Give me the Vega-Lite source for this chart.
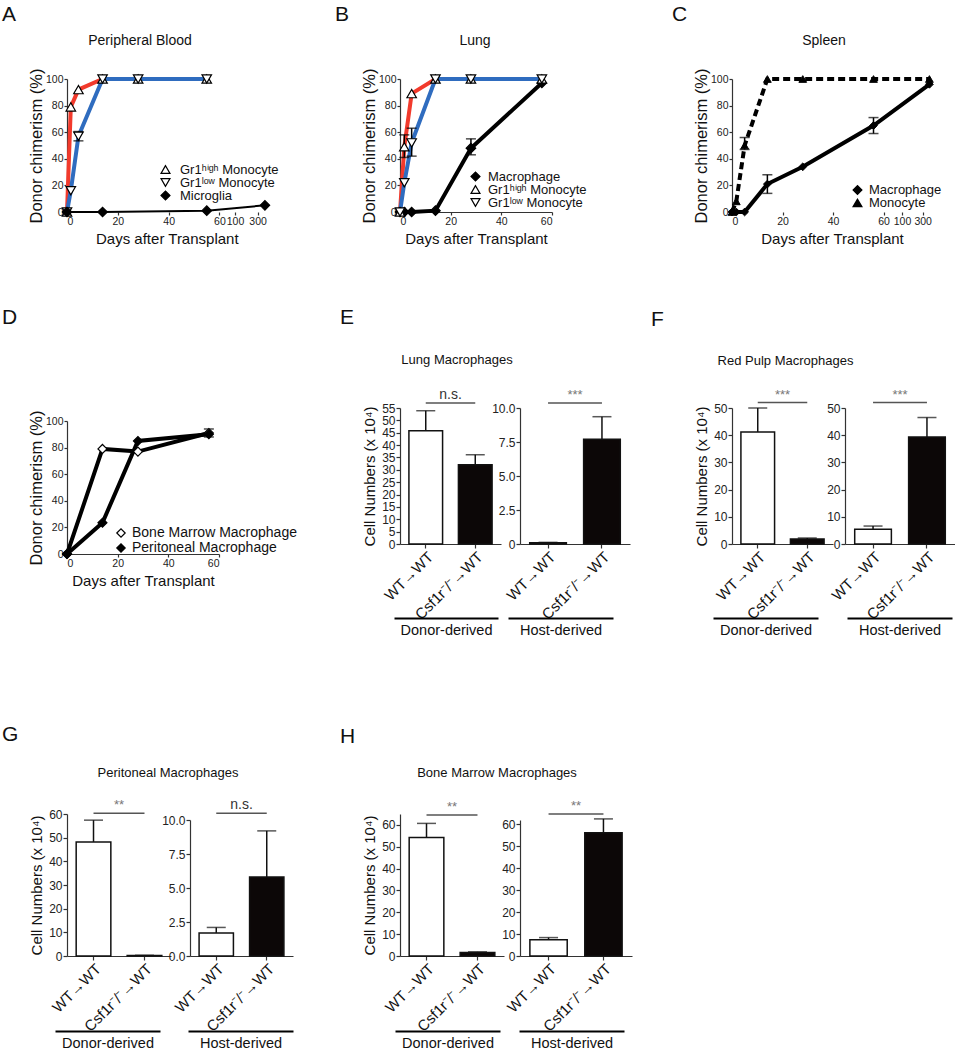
{
"$schema":"https://vega.github.io/schema/vega-lite/v6.json",
"padding":{"left":2,"top":3,"right":0,"bottom":0},
"background":"white",
"config":{"font":"Liberation Sans","view":{"stroke":null},
 "axis":{"labelFont":"Liberation Sans","labelFontSize":11,"labelColor":"#222","titleFont":"Liberation Sans","titleFontWeight":"normal","titleColor":"#111","domainColor":"#333","tickColor":"#333","tickSize":4,"grid":false,"domainWidth":1.2,"tickWidth":1.2,"labelOverlap":false,"labelPadding":1},
 "title":{"font":"Liberation Sans","fontWeight":"normal","color":"#111"},
 "legend":{"labelFont":"Liberation Sans","labelColor":"#111","padding":0,"labelLimit":400}},
"columns":7,"bounds":"flush","align":"each","spacing":{"row":196,"column":0},
"resolve":{"scale":{"color":"independent","fill":"independent","shape":"independent","size":"independent","stroke":"independent"},"legend":{"color":"independent","fill":"independent","shape":"independent","size":"independent","stroke":"independent"}},
"concat":[
 {"width":65,"height":1,"data":{"values":[{}]},"mark":{"type":"point","opacity":0},"title":{"text":"A","anchor":"start","frame":"group","fontSize":21,"dx":0,"offset":52}},
 {"title":{"text":"Peripheral Blood","fontSize":14,"offset":20,"dx":11.5,"anchor":"middle","frame":"group"},
  "width":123,"height":133,
  "data":{"values":[
   {"day":0,"v":0,"s":"Gr1ʰⁱᵍʰ Monocyte"},{"day":1.5,"v":79,"s":"Gr1ʰⁱᵍʰ Monocyte"},{"day":4.5,"v":92,"s":"Gr1ʰⁱᵍʰ Monocyte"},{"day":14,"v":100,"s":"Gr1ʰⁱᵍʰ Monocyte"},{"day":28,"v":100,"s":"Gr1ʰⁱᵍʰ Monocyte"},{"day":55,"v":100,"s":"Gr1ʰⁱᵍʰ Monocyte"},
   {"day":0,"v":0,"s":"Gr1ˡᵒʷ Monocyte"},{"day":1.5,"v":16,"s":"Gr1ˡᵒʷ Monocyte"},{"day":4.5,"v":57,"lo":53.5,"hi":60.5,"s":"Gr1ˡᵒʷ Monocyte"},{"day":14,"v":100,"s":"Gr1ˡᵒʷ Monocyte"},{"day":28,"v":100,"s":"Gr1ˡᵒʷ Monocyte"},{"day":55,"v":100,"s":"Gr1ˡᵒʷ Monocyte"},
   {"day":0,"v":0,"s":"Microglia"},{"day":14,"v":0,"s":"Microglia"},{"day":55,"v":1,"s":"Microglia"},{"day":365,"v":5,"s":"Microglia"}]},
  "encoding":{
   "x":{"field":"day","type":"quantitative","scale":{"domain":[0,61,64,100,380],"range":[0,155,160.6,168,199.6],"nice":false,"zero":false},
    "axis":{"values":[0,20,40,60,100,300],"tickCount":100,"format":"d","domain":false,"labelFontSize":10.5,"tickSize":3,"labelOverlap":false,"title":"Days after Transplant","titleFontSize":15,"titlePadding":5}},
   "y":{"field":"v","type":"quantitative","scale":{"domain":[0,100],"nice":false},
    "axis":{"values":[0,20,40,60,80,100],"tickCount":100,"format":"d","labelFontSize":10.5,"tickSize":3,"labelOverlap":false,"title":"Donor chimerism (%)","titleFontSize":16.5,"titlePadding":1}}},
  "layer":[
   {"data":{"values":[{}]},"mark":{"type":"rule","color":"#222","strokeWidth":1.2},"encoding":{"x":{"datum":0},"x2":{"datum":61},"y":{"datum":0}}},
   {"data":{"values":[{}]},"mark":{"type":"rule","color":"#222","strokeWidth":1.2},"encoding":{"x":{"datum":64},"x2":{"datum":380},"y":{"datum":0}}},
   {"transform":[{"filter":"datum.s == 'Gr1ʰⁱᵍʰ Monocyte'"}],"mark":{"type":"line","strokeWidth":4,"color":"#f23a2c"}},
   {"transform":[{"filter":"datum.s == 'Gr1ˡᵒʷ Monocyte'"}],"mark":{"type":"line","strokeWidth":4,"color":"#2f6cbf"}},
   {"transform":[{"filter":"datum.s == 'Microglia'"}],"mark":{"type":"line","strokeWidth":2,"color":"#000"}},
   {"transform":[{"filter":"isValid(datum.lo)"}],"mark":{"type":"rule","color":"#000","strokeWidth":1.5},"encoding":{"y":{"field":"lo","type":"quantitative"},"y2":{"field":"hi"}}},
   {"transform":[{"filter":"isValid(datum.lo)"},{"fold":["lo","hi"],"as":["k","ev"]}],"mark":{"type":"tick","orient":"horizontal","size":10,"thickness":1.5,"color":"#000"},"encoding":{"y":{"field":"ev","type":"quantitative"}}},
   {"mark":{"type":"point","filled":true,"strokeWidth":1.2,"opacity":1,"size":90},
    "encoding":{
     "shape":{"field":"s","type":"nominal","scale":{"domain":["Gr1ʰⁱᵍʰ Monocyte","Gr1ˡᵒʷ Monocyte","Microglia"],"range":["triangle-up","triangle-down","diamond"]},
      "legend":{"orient":"none","legendX":92,"legendY":85,"title":null,"labelFontSize":13,"rowPadding":-3,"clipHeight":11,"symbolSize":80,"labelOffset":8,"symbolStrokeWidth":1.2}},
     "fill":{"field":"s","type":"nominal","scale":{"domain":["Gr1ʰⁱᵍʰ Monocyte","Gr1ˡᵒʷ Monocyte","Microglia"],"range":["#ffffff","#ffffff","#000000"]},
      "legend":{"orient":"none","legendX":92,"legendY":85,"title":null,"labelFontSize":13,"rowPadding":-3,"clipHeight":11,"symbolSize":80,"labelOffset":8,"symbolStrokeWidth":1.2}},
     "stroke":{"field":"s","type":"nominal","scale":{"domain":["Gr1ʰⁱᵍʰ Monocyte","Gr1ˡᵒʷ Monocyte","Microglia"],"range":["#000000","#000000","#000000"]},
      "legend":{"orient":"none","legendX":92,"legendY":85,"title":null,"labelFontSize":13,"rowPadding":-3,"clipHeight":11,"symbolSize":80,"labelOffset":8,"symbolStrokeWidth":1.2}}}}
  ]},
 {"width":210,"height":1,"data":{"values":[{}]},"mark":{"type":"point","opacity":0},"title":{"text":"B","anchor":"start","frame":"group","fontSize":21,"dx":145,"offset":52}},
 {"title":{"text":"Lung","fontSize":14,"offset":20,"dx":15,"anchor":"middle","frame":"group"},
  "width":120,"height":133,
  "data":{"values":[
   {"day":0,"v":0,"s":"Macrophage"},{"day":1.7,"v":0,"s":"Macrophage"},{"day":4.6,"v":0,"s":"Macrophage"},{"day":14,"v":1,"s":"Macrophage"},{"day":28,"v":48,"lo":43,"hi":55,"s":"Macrophage"},{"day":56,"v":97,"s":"Macrophage"},
   {"day":0,"v":0,"s":"Gr1ʰⁱᵍʰ Monocyte"},{"day":1.7,"v":49,"lo":41,"hi":58,"s":"Gr1ʰⁱᵍʰ Monocyte"},{"day":4.6,"v":89,"s":"Gr1ʰⁱᵍʰ Monocyte"},{"day":14,"v":100,"s":"Gr1ʰⁱᵍʰ Monocyte"},{"day":28,"v":100,"s":"Gr1ʰⁱᵍʰ Monocyte"},{"day":56,"v":100,"s":"Gr1ʰⁱᵍʰ Monocyte"},
   {"day":0,"v":0,"s":"Gr1ˡᵒʷ Monocyte"},{"day":1.7,"v":22,"s":"Gr1ˡᵒʷ Monocyte"},{"day":4.6,"v":52,"lo":42,"hi":63,"s":"Gr1ˡᵒʷ Monocyte"},{"day":14,"v":100,"s":"Gr1ˡᵒʷ Monocyte"},{"day":28,"v":100,"s":"Gr1ˡᵒʷ Monocyte"},{"day":56,"v":100,"s":"Gr1ˡᵒʷ Monocyte"}]},
  "encoding":{
   "x":{"field":"day","type":"quantitative","scale":{"domain":[0,60],"range":[0,152],"nice":false,"zero":false},
    "axis":{"values":[0,20,40,60],"tickCount":100,"format":"d","labelFontSize":10.5,"tickSize":3,"labelOverlap":false,"title":"Days after Transplant","titleFontSize":15,"titlePadding":5}},
   "y":{"field":"v","type":"quantitative","scale":{"domain":[0,100],"nice":false},
    "axis":{"values":[0,20,40,60,80,100],"tickCount":100,"format":"d","labelFontSize":10.5,"tickSize":3,"labelOverlap":false,"title":"Donor chimerism (%)","titleFontSize":16.5,"titlePadding":1}}},
  "layer":[
   {"transform":[{"filter":"datum.s == 'Macrophage'"}],"mark":{"type":"line","strokeWidth":4,"color":"#000"}},
   {"transform":[{"filter":"datum.s == 'Gr1ʰⁱᵍʰ Monocyte'"}],"mark":{"type":"line","strokeWidth":4,"color":"#f23a2c"}},
   {"transform":[{"filter":"datum.s == 'Gr1ˡᵒʷ Monocyte'"}],"mark":{"type":"line","strokeWidth":4,"color":"#2f6cbf"}},
   {"transform":[{"filter":"isValid(datum.lo)"}],"mark":{"type":"rule","color":"#000","strokeWidth":1.5},"encoding":{"y":{"field":"lo","type":"quantitative"},"y2":{"field":"hi"}}},
   {"transform":[{"filter":"isValid(datum.lo)"},{"fold":["lo","hi"],"as":["k","ev"]}],"mark":{"type":"tick","orient":"horizontal","size":10,"thickness":1.5,"color":"#000"},"encoding":{"y":{"field":"ev","type":"quantitative"}}},
   {"mark":{"type":"point","filled":true,"strokeWidth":1.2,"opacity":1,"size":90},
    "encoding":{
     "shape":{"field":"s","type":"nominal","scale":{"domain":["Macrophage","Gr1ʰⁱᵍʰ Monocyte","Gr1ˡᵒʷ Monocyte"],"range":["diamond","triangle-up","triangle-down"]},
      "legend":{"orient":"none","legendX":69,"legendY":92,"title":null,"labelFontSize":13,"rowPadding":-3,"clipHeight":11,"symbolSize":80,"labelOffset":6,"symbolStrokeWidth":1.2}},
     "fill":{"field":"s","type":"nominal","scale":{"domain":["Macrophage","Gr1ʰⁱᵍʰ Monocyte","Gr1ˡᵒʷ Monocyte"],"range":["#000000","#ffffff","#ffffff"]},
      "legend":{"orient":"none","legendX":69,"legendY":92,"title":null,"labelFontSize":13,"rowPadding":-3,"clipHeight":11,"symbolSize":80,"labelOffset":6,"symbolStrokeWidth":1.2}},
     "stroke":{"field":"s","type":"nominal","scale":{"domain":["Macrophage","Gr1ʰⁱᵍʰ Monocyte","Gr1ˡᵒʷ Monocyte"],"range":["#000000","#000000","#000000"]},
      "legend":{"orient":"none","legendX":69,"legendY":92,"title":null,"labelFontSize":13,"rowPadding":-3,"clipHeight":11,"symbolSize":80,"labelOffset":6,"symbolStrokeWidth":1.2}}}}
  ]},
 {"width":212,"height":1,"data":{"values":[{}]},"mark":{"type":"point","opacity":0},"title":{"text":"C","anchor":"start","frame":"group","fontSize":21,"dx":152,"offset":52}},
 {"title":{"text":"Spleen","fontSize":14,"offset":20,"dx":35.5,"anchor":"middle","frame":"group"},
  "width":113,"height":133,
  "data":{"values":[
   {"day":0,"v":0,"s":"Macrophage"},{"day":1.7,"v":0,"s":"Macrophage"},{"day":5,"v":0,"s":"Macrophage"},{"day":14,"v":21,"lo":14,"hi":28,"s":"Macrophage"},{"day":28,"v":34,"s":"Macrophage"},{"day":56,"v":65,"lo":59,"hi":71,"s":"Macrophage"},{"day":365,"v":96,"s":"Macrophage"},
   {"day":0,"v":0,"s":"Monocyte"},{"day":1.7,"v":8,"s":"Monocyte"},{"day":5,"v":50,"lo":47,"hi":56,"s":"Monocyte"},{"day":14,"v":100,"s":"Monocyte"},{"day":28,"v":100,"s":"Monocyte"},{"day":56,"v":100,"s":"Monocyte"},{"day":365,"v":100,"s":"Monocyte"}]},
  "encoding":{
   "x":{"field":"day","type":"quantitative","scale":{"domain":[0,61.5,64,100,390],"range":[0,155.4,162.6,170,200],"nice":false,"zero":false},
    "axis":{"values":[0,20,40,60,100,300],"tickCount":100,"format":"d","domain":false,"labelFontSize":10.5,"tickSize":3,"labelOverlap":false,"title":"Days after Transplant","titleFontSize":15,"titlePadding":5}},
   "y":{"field":"v","type":"quantitative","scale":{"domain":[0,100],"nice":false},
    "axis":{"values":[0,20,40,60,80,100],"tickCount":100,"format":"d","labelFontSize":10.5,"tickSize":3,"labelOverlap":false,"title":"Donor chimerism (%)","titleFontSize":16.5,"titlePadding":1}}},
  "layer":[
   {"data":{"values":[{}]},"mark":{"type":"rule","color":"#222","strokeWidth":1.2},"encoding":{"x":{"datum":0},"x2":{"datum":61.5},"y":{"datum":0}}},
   {"data":{"values":[{}]},"mark":{"type":"rule","color":"#222","strokeWidth":1.2},"encoding":{"x":{"datum":64},"x2":{"datum":390},"y":{"datum":0}}},
   {"transform":[{"filter":"datum.s == 'Macrophage'"}],"mark":{"type":"line","strokeWidth":4,"color":"#000"}},
   {"transform":[{"filter":"datum.s == 'Monocyte'"}],"mark":{"type":"line","strokeWidth":4,"color":"#000","strokeDash":[7,4]}},
   {"transform":[{"filter":"isValid(datum.lo)"}],"mark":{"type":"rule","color":"#000","strokeWidth":1.5},"encoding":{"y":{"field":"lo","type":"quantitative"},"y2":{"field":"hi"}}},
   {"transform":[{"filter":"isValid(datum.lo)"},{"fold":["lo","hi"],"as":["k","ev"]}],"mark":{"type":"tick","orient":"horizontal","size":10,"thickness":1.5,"color":"#000"},"encoding":{"y":{"field":"ev","type":"quantitative"}}},
   {"mark":{"type":"point","filled":true,"strokeWidth":1,"opacity":1,"size":60},
    "encoding":{
     "shape":{"field":"s","type":"nominal","scale":{"domain":["Macrophage","Monocyte"],"range":["diamond","triangle-up"]},
      "legend":{"orient":"none","legendX":119,"legendY":105.5,"title":null,"labelFontSize":13,"rowPadding":-3,"clipHeight":11,"symbolSize":70,"labelOffset":5}},
     "fill":{"field":"s","type":"nominal","scale":{"domain":["Macrophage","Monocyte"],"range":["#000000","#000000"]},
      "legend":{"orient":"none","legendX":119,"legendY":105.5,"title":null,"labelFontSize":13,"rowPadding":-3,"clipHeight":11,"symbolSize":70,"labelOffset":5}},
     "stroke":{"field":"s","type":"nominal","scale":{"domain":["Macrophage","Monocyte"],"range":["#000000","#000000"]},
      "legend":{"orient":"none","legendX":119,"legendY":105.5,"title":null,"labelFontSize":13,"rowPadding":-3,"clipHeight":11,"symbolSize":70,"labelOffset":5}}}}
  ]},
 {"width":110,"height":1,"data":{"values":[{}]},"mark":{"type":"point","opacity":0}},

 {"width":65,"height":1,"data":{"values":[{}]},"mark":{"type":"point","opacity":0},"title":{"text":"D","anchor":"start","frame":"group","fontSize":21,"dx":0,"offset":78}},
 {"width":123,"height":146,
  "data":{"values":[
   {"day":0,"v":0,"s":"Bone Marrow Macrophage"},{"day":14,"v":79,"s":"Bone Marrow Macrophage"},{"day":28,"v":77,"s":"Bone Marrow Macrophage"},{"day":56,"v":91,"lo":88,"hi":94,"s":"Bone Marrow Macrophage"},
   {"day":0,"v":0,"s":"Peritoneal Macrophage"},{"day":14,"v":23.5,"s":"Peritoneal Macrophage"},{"day":28,"v":85,"s":"Peritoneal Macrophage"},{"day":56,"v":90,"s":"Peritoneal Macrophage"}]},
  "encoding":{
   "x":{"field":"day","type":"quantitative","scale":{"domain":[0,60],"range":[0,152],"nice":false,"zero":false},
    "axis":{"values":[0,20,40,60],"tickCount":100,"format":"d","labelFontSize":10.5,"tickSize":3,"labelOverlap":false,"title":"Days after Transplant","titleFontSize":15,"titlePadding":5}},
   "y":{"field":"v","type":"quantitative","scale":{"domain":[0,100],"range":[146,13],"nice":false},
    "axis":{"values":[0,20,40,60,80,100],"tickCount":100,"format":"d","labelFontSize":10.5,"tickSize":3,"labelOverlap":false,"title":"Donor chimerism (%)","titleFontSize":16.5,"titlePadding":1}}},
  "layer":[
   {"mark":{"type":"line","strokeWidth":4,"color":"#000"},"encoding":{"detail":{"field":"s","type":"nominal"}}},
   {"transform":[{"filter":"isValid(datum.lo)"}],"mark":{"type":"rule","color":"#000","strokeWidth":1.5},"encoding":{"y":{"field":"lo","type":"quantitative"},"y2":{"field":"hi"}}},
   {"transform":[{"filter":"isValid(datum.lo)"},{"fold":["lo","hi"],"as":["k","ev"]}],"mark":{"type":"tick","orient":"horizontal","size":10,"thickness":1.5,"color":"#000"},"encoding":{"y":{"field":"ev","type":"quantitative"}}},
   {"mark":{"type":"point","filled":true,"strokeWidth":1.2,"opacity":1,"size":80},
    "encoding":{
     "shape":{"field":"s","type":"nominal","scale":{"domain":["Bone Marrow Macrophage","Peritoneal Macrophage"],"range":["diamond","diamond"]},
      "legend":{"orient":"none","legendX":47,"legendY":118,"title":null,"labelFontSize":14,"rowPadding":1,"clipHeight":14,"symbolSize":70,"labelOffset":4,"symbolStrokeWidth":1.2}},
     "fill":{"field":"s","type":"nominal","scale":{"domain":["Bone Marrow Macrophage","Peritoneal Macrophage"],"range":["#ffffff","#000000"]},
      "legend":{"orient":"none","legendX":47,"legendY":118,"title":null,"labelFontSize":14,"rowPadding":1,"clipHeight":14,"symbolSize":70,"labelOffset":4,"symbolStrokeWidth":1.2}},
     "stroke":{"field":"s","type":"nominal","scale":{"domain":["Bone Marrow Macrophage","Peritoneal Macrophage"],"range":["#000000","#000000"]},
      "legend":{"orient":"none","legendX":47,"legendY":118,"title":null,"labelFontSize":14,"rowPadding":1,"clipHeight":14,"symbolSize":70,"labelOffset":4,"symbolStrokeWidth":1.2}}}}
  ]},
 {"width":210,"height":1,"data":{"values":[{}]},"mark":{"type":"point","opacity":0},"title":{"text":"E","anchor":"start","frame":"group","fontSize":21,"dx":150,"offset":78}},
 {"title":{"text":"Lung Macrophages","fontSize":13,"offset":21,"dx":-3,"anchor":"middle","frame":"group"},
  "width":120,"height":136,
  "data":{"values":[{"g":"WT→WT","m":45.8,"hi":53.9},{"g":"Csf1r⁻/⁻→WT","m":32.1,"hi":36.1}]},
  "resolve":{"scale":{"x":"independent"},"axis":{"x":"independent"}},
  "layer":[
   {"encoding":{"x":{"field":"g","type":"nominal","sort":null,"scale":{"domain":["WT→WT","Csf1r⁻/⁻→WT"],"range":[0,101],"paddingInner":0.32,"paddingOuter":0.18},"axis":{"labelAngle":-45,"title":null,"labelFontSize":15,"labelColor":"#111"}}},
    "layer":[
     {"mark":{"type":"rule","color":"#111","strokeWidth":1.5},"encoding":{"y":{"field":"m","type":"quantitative","scale":{"domain":[0,55],"nice":false},"axis":{"values":[0,5,10,15,20,25,30,35,40,45,50,55],"tickCount":100,"format":"d","labelOverlap":false,"labelFontSize":12,"title":"Cell Numbers (x 10⁴)","titleFontSize":15,"titlePadding":4}},"y2":{"field":"hi"}}},
     {"mark":{"type":"tick","orient":"horizontal","size":19,"thickness":1.5,"color":"#111"},"encoding":{"y":{"field":"hi","type":"quantitative"}}},
     {"mark":{"type":"bar","stroke":"#111","strokeWidth":1.5},"encoding":{"y":{"field":"m","type":"quantitative"},"fill":{"field":"g","type":"nominal","scale":{"domain":["WT→WT","Csf1r⁻/⁻→WT"],"range":["#ffffff","#0c0707"]},"legend":null}}},
     {"data":{"values":[{"t":"n.s."}]},"mark":{"type":"rule","color":"#555","strokeWidth":1.5},"encoding":{"x":{"datum":"WT→WT"},"x2":{"datum":"Csf1r⁻/⁻→WT"},"y":{"datum":57}}},
     {"data":{"values":[{"t":"n.s."}]},"mark":{"type":"text","baseline":"bottom","dy":-1,"fontSize":14,"color":"#333"},"encoding":{"x":{"datum":"WT→WT","bandPosition":1.235},"y":{"datum":57},"text":{"field":"t"}}}
    ]},
   {"mark":{"type":"rule","opacity":0},"encoding":{"x":{"datum":0.5,"type":"quantitative","scale":{"domain":[0,1],"range":[-6,98]},"axis":{"orient":"bottom","offset":74,"domainColor":"#000","domainWidth":2,"ticks":false,"labels":false,"grid":false,"title":"Donor-derived","titleFontSize":14.5,"titlePadding":5}}}}
  ]},
 {"title":{"text":"F","anchor":"start","frame":"group","fontSize":21,"dx":131,"offset":59},
  "width":212,"height":136,
  "data":{"values":[{"g":"WT→WT","m":0.1,"hi":0.12},{"g":"Csf1r⁻/⁻→WT","m":7.7,"hi":9.36}]},
  "resolve":{"scale":{"x":"independent"},"axis":{"x":"independent"}},
  "layer":[
   {"encoding":{"x":{"field":"g","type":"nominal","sort":null,"scale":{"domain":["WT→WT","Csf1r⁻/⁻→WT"],"range":[0,110],"paddingInner":0.32,"paddingOuter":0.18},"axis":{"labelAngle":-45,"title":null,"labelFontSize":15,"labelColor":"#111"}}},
    "layer":[
     {"mark":{"type":"rule","color":"#111","strokeWidth":1.5},"encoding":{"y":{"field":"m","type":"quantitative","scale":{"domain":[0,10],"nice":false},"axis":{"values":[0,2.5,5,7.5,10],"tickCount":100,"labelOverlap":false,"labelFontSize":12,"labelExpr":"datum.value === 0 ? '0' : format(datum.value, '.1f')","title":null}},"y2":{"field":"hi"}}},
     {"mark":{"type":"tick","orient":"horizontal","size":19,"thickness":1.5,"color":"#111"},"encoding":{"y":{"field":"hi","type":"quantitative"}}},
     {"mark":{"type":"bar","stroke":"#111","strokeWidth":1.5},"encoding":{"y":{"field":"m","type":"quantitative"},"fill":{"field":"g","type":"nominal","scale":{"domain":["WT→WT","Csf1r⁻/⁻→WT"],"range":["#ffffff","#0c0707"]},"legend":null}}},
     {"data":{"values":[{"t":"***"}]},"mark":{"type":"rule","color":"#555","strokeWidth":1.5},"encoding":{"x":{"datum":"WT→WT"},"x2":{"datum":"Csf1r⁻/⁻→WT"},"y":{"datum":10.37}}},
     {"data":{"values":[{"t":"***"}]},"mark":{"type":"text","baseline":"bottom","dy":-1,"fontSize":13,"color":"#777"},"encoding":{"x":{"datum":"WT→WT","bandPosition":1.235},"y":{"datum":10.37},"text":{"field":"t"}}}
    ]},
   {"mark":{"type":"rule","opacity":0},"encoding":{"x":{"datum":0.5,"type":"quantitative","scale":{"domain":[0,1],"range":[-12,93]},"axis":{"orient":"bottom","offset":74,"domainColor":"#000","domainWidth":2,"ticks":false,"labels":false,"grid":false,"title":"Host-derived","titleFontSize":14.5,"titlePadding":5}}}}
  ]},
 {"title":{"text":"Red Pulp Macrophages","fontSize":13,"offset":21,"dx":-3,"anchor":"middle","frame":"group"},
  "width":113,"height":136,
  "data":{"values":[{"g":"WT→WT","m":41.2,"hi":50},{"g":"Csf1r⁻/⁻→WT","m":1.8,"hi":2.2}]},
  "resolve":{"scale":{"x":"independent"},"axis":{"x":"independent"}},
  "layer":[
   {"encoding":{"x":{"field":"g","type":"nominal","sort":null,"scale":{"domain":["WT→WT","Csf1r⁻/⁻→WT"],"range":[0,101],"paddingInner":0.32,"paddingOuter":0.18},"axis":{"labelAngle":-45,"title":null,"labelFontSize":15,"labelColor":"#111"}}},
    "layer":[
     {"mark":{"type":"rule","color":"#111","strokeWidth":1.5},"encoding":{"y":{"field":"m","type":"quantitative","scale":{"domain":[0,50],"nice":false},"axis":{"values":[0,10,20,30,40,50],"tickCount":100,"format":"d","labelOverlap":false,"labelFontSize":12,"title":"Cell Numbers (x 10⁴)","titleFontSize":15,"titlePadding":4}},"y2":{"field":"hi"}}},
     {"mark":{"type":"tick","orient":"horizontal","size":19,"thickness":1.5,"color":"#111"},"encoding":{"y":{"field":"hi","type":"quantitative"}}},
     {"mark":{"type":"bar","stroke":"#111","strokeWidth":1.5},"encoding":{"y":{"field":"m","type":"quantitative"},"fill":{"field":"g","type":"nominal","scale":{"domain":["WT→WT","Csf1r⁻/⁻→WT"],"range":["#ffffff","#0c0707"]},"legend":null}}},
     {"data":{"values":[{"t":"***"}]},"mark":{"type":"rule","color":"#555","strokeWidth":1.5},"encoding":{"x":{"datum":"WT→WT"},"x2":{"datum":"Csf1r⁻/⁻→WT"},"y":{"datum":52}}},
     {"data":{"values":[{"t":"***"}]},"mark":{"type":"text","baseline":"bottom","dy":-1,"fontSize":13,"color":"#777"},"encoding":{"x":{"datum":"WT→WT","bandPosition":1.235},"y":{"datum":52},"text":{"field":"t"}}}
    ]},
   {"mark":{"type":"rule","opacity":0},"encoding":{"x":{"datum":0.5,"type":"quantitative","scale":{"domain":[0,1],"range":[-19,86]},"axis":{"orient":"bottom","offset":74,"domainColor":"#000","domainWidth":2,"ticks":false,"labels":false,"grid":false,"title":"Donor-derived","titleFontSize":14.5,"titlePadding":5}}}}
  ]},
 {"width":110,"height":136,
  "data":{"values":[{"g":"WT→WT","m":5.4,"hi":6.6},{"g":"Csf1r⁻/⁻→WT","m":39.3,"hi":46.5}]},
  "resolve":{"scale":{"x":"independent"},"axis":{"x":"independent"}},
  "layer":[
   {"encoding":{"x":{"field":"g","type":"nominal","sort":null,"scale":{"domain":["WT→WT","Csf1r⁻/⁻→WT"],"range":[0,110],"paddingInner":0.32,"paddingOuter":0.18},"axis":{"labelAngle":-45,"title":null,"labelFontSize":15,"labelColor":"#111"}}},
    "layer":[
     {"mark":{"type":"rule","color":"#111","strokeWidth":1.5},"encoding":{"y":{"field":"m","type":"quantitative","scale":{"domain":[0,50],"nice":false},"axis":{"values":[0,10,20,30,40,50],"tickCount":100,"format":"d","labelOverlap":false,"labelFontSize":12,"title":null}},"y2":{"field":"hi"}}},
     {"mark":{"type":"tick","orient":"horizontal","size":19,"thickness":1.5,"color":"#111"},"encoding":{"y":{"field":"hi","type":"quantitative"}}},
     {"mark":{"type":"bar","stroke":"#111","strokeWidth":1.5},"encoding":{"y":{"field":"m","type":"quantitative"},"fill":{"field":"g","type":"nominal","scale":{"domain":["WT→WT","Csf1r⁻/⁻→WT"],"range":["#ffffff","#0c0707"]},"legend":null}}},
     {"data":{"values":[{"t":"***"}]},"mark":{"type":"rule","color":"#555","strokeWidth":1.5},"encoding":{"x":{"datum":"WT→WT"},"x2":{"datum":"Csf1r⁻/⁻→WT"},"y":{"datum":52}}},
     {"data":{"values":[{"t":"***"}]},"mark":{"type":"text","baseline":"bottom","dy":-1,"fontSize":13,"color":"#777"},"encoding":{"x":{"datum":"WT→WT","bandPosition":1.235},"y":{"datum":52},"text":{"field":"t"}}}
    ]},
   {"mark":{"type":"rule","opacity":0},"encoding":{"x":{"datum":0.5,"type":"quantitative","scale":{"domain":[0,1],"range":[2,107]},"axis":{"orient":"bottom","offset":74,"domainColor":"#000","domainWidth":2,"ticks":false,"labels":false,"grid":false,"title":"Host-derived","titleFontSize":14.5,"titlePadding":5}}}}
  ]},

 {"width":65,"height":1,"data":{"values":[{}]},"mark":{"type":"point","opacity":0},"title":{"text":"G","anchor":"start","frame":"group","fontSize":21,"dx":0,"offset":3}},
 {"title":{"text":"Peritoneal Macrophages","fontSize":13,"offset":-30,"dx":39.5,"anchor":"middle","frame":"group"},
  "width":123,"height":206,
  "data":{"values":[{"g":"WT→WT","m":48.2,"hi":57.4},{"g":"Csf1r⁻/⁻→WT","m":0.25,"hi":0.3}]},
  "resolve":{"scale":{"x":"independent"},"axis":{"x":"independent"}},
  "layer":[
   {"encoding":{"x":{"field":"g","type":"nominal","sort":null,"scale":{"domain":["WT→WT","Csf1r⁻/⁻→WT"],"range":[0,104],"paddingInner":0.32,"paddingOuter":0.18},"axis":{"labelAngle":-45,"title":null,"labelFontSize":15,"labelColor":"#111"}}},
    "layer":[
     {"mark":{"type":"rule","color":"#111","strokeWidth":1.5},"encoding":{"y":{"field":"m","type":"quantitative","scale":{"domain":[0,60],"range":[206,64],"nice":false},"axis":{"values":[0,10,20,30,40,50,60],"tickCount":100,"format":"d","labelOverlap":false,"labelFontSize":12,"title":"Cell Numbers (x 10⁴)","titleFontSize":15,"titlePadding":4}},"y2":{"field":"hi"}}},
     {"mark":{"type":"tick","orient":"horizontal","size":19,"thickness":1.5,"color":"#111"},"encoding":{"y":{"field":"hi","type":"quantitative"}}},
     {"mark":{"type":"bar","stroke":"#111","strokeWidth":1.5},"encoding":{"y":{"field":"m","type":"quantitative"},"fill":{"field":"g","type":"nominal","scale":{"domain":["WT→WT","Csf1r⁻/⁻→WT"],"range":["#ffffff","#0c0707"]},"legend":null}}},
     {"data":{"values":[{"t":"**"}]},"mark":{"type":"rule","color":"#555","strokeWidth":1.5},"encoding":{"x":{"datum":"WT→WT"},"x2":{"datum":"Csf1r⁻/⁻→WT"},"y":{"datum":60.3}}},
     {"data":{"values":[{"t":"**"}]},"mark":{"type":"text","baseline":"bottom","dy":-1,"fontSize":13,"color":"#777"},"encoding":{"x":{"datum":"WT→WT","bandPosition":1.235},"y":{"datum":60.3},"text":{"field":"t"}}}
    ]},
   {"mark":{"type":"rule","opacity":0},"encoding":{"x":{"datum":0.5,"type":"quantitative","scale":{"domain":[0,1],"range":[-12,93]},"axis":{"orient":"bottom","offset":75,"domainColor":"#000","domainWidth":2,"ticks":false,"labels":false,"grid":false,"title":"Donor-derived","titleFontSize":14.5,"titlePadding":5}}}}
  ]},
 {"title":{"text":"H","anchor":"start","frame":"group","fontSize":21,"dx":150,"offset":3},
  "width":210,"height":206,
  "data":{"values":[{"g":"WT→WT","m":1.7,"hi":2.1},{"g":"Csf1r⁻/⁻→WT","m":5.8,"hi":9.2}]},
  "resolve":{"scale":{"x":"independent"},"axis":{"x":"independent"}},
  "layer":[
   {"encoding":{"x":{"field":"g","type":"nominal","sort":null,"scale":{"domain":["WT→WT","Csf1r⁻/⁻→WT"],"range":[0,103],"paddingInner":0.32,"paddingOuter":0.18},"axis":{"labelAngle":-45,"title":null,"labelFontSize":15,"labelColor":"#111"}}},
    "layer":[
     {"mark":{"type":"rule","color":"#111","strokeWidth":1.5},"encoding":{"y":{"field":"m","type":"quantitative","scale":{"domain":[0,10],"range":[206,70],"nice":false},"axis":{"values":[0,2.5,5,7.5,10],"tickCount":100,"labelOverlap":false,"labelFontSize":12,"format":".1f","title":null}},"y2":{"field":"hi"}}},
     {"mark":{"type":"tick","orient":"horizontal","size":19,"thickness":1.5,"color":"#111"},"encoding":{"y":{"field":"hi","type":"quantitative"}}},
     {"mark":{"type":"bar","stroke":"#111","strokeWidth":1.5},"encoding":{"y":{"field":"m","type":"quantitative"},"fill":{"field":"g","type":"nominal","scale":{"domain":["WT→WT","Csf1r⁻/⁻→WT"],"range":["#ffffff","#0c0707"]},"legend":null}}},
     {"data":{"values":[{"t":"n.s."}]},"mark":{"type":"rule","color":"#555","strokeWidth":1.5},"encoding":{"x":{"datum":"WT→WT"},"x2":{"datum":"Csf1r⁻/⁻→WT"},"y":{"datum":10.5}}},
     {"data":{"values":[{"t":"n.s."}]},"mark":{"type":"text","baseline":"bottom","dy":-1,"fontSize":14,"color":"#333"},"encoding":{"x":{"datum":"WT→WT","bandPosition":1.235},"y":{"datum":10.5},"text":{"field":"t"}}}
    ]},
   {"mark":{"type":"rule","opacity":0},"encoding":{"x":{"datum":0.5,"type":"quantitative","scale":{"domain":[0,1],"range":[-2,103]},"axis":{"orient":"bottom","offset":75,"domainColor":"#000","domainWidth":2,"ticks":false,"labels":false,"grid":false,"title":"Host-derived","titleFontSize":14.5,"titlePadding":5}}}}
  ]},
 {"title":{"text":"Bone Marrow Macrophages","fontSize":13,"offset":-30,"dx":37,"anchor":"middle","frame":"group"},
  "width":120,"height":206,
  "data":{"values":[{"g":"WT→WT","m":54.3,"hi":60.7},{"g":"Csf1r⁻/⁻→WT","m":1.6,"hi":1.9}]},
  "resolve":{"scale":{"x":"independent"},"axis":{"x":"independent"}},
  "layer":[
   {"encoding":{"x":{"field":"g","type":"nominal","sort":null,"scale":{"domain":["WT→WT","Csf1r⁻/⁻→WT"],"range":[0,104],"paddingInner":0.32,"paddingOuter":0.18},"axis":{"labelAngle":-45,"title":null,"labelFontSize":15,"labelColor":"#111"}}},
    "layer":[
     {"mark":{"type":"rule","color":"#111","strokeWidth":1.5},"encoding":{"y":{"field":"m","type":"quantitative","scale":{"domain":[0,65],"range":[206,64],"nice":false},"axis":{"values":[0,10,20,30,40,50,60],"tickCount":100,"format":"d","labelOverlap":false,"labelFontSize":12,"title":"Cell Numbers (x 10⁴)","titleFontSize":15,"titlePadding":4}},"y2":{"field":"hi"}}},
     {"mark":{"type":"tick","orient":"horizontal","size":19,"thickness":1.5,"color":"#111"},"encoding":{"y":{"field":"hi","type":"quantitative"}}},
     {"mark":{"type":"bar","stroke":"#111","strokeWidth":1.5},"encoding":{"y":{"field":"m","type":"quantitative"},"fill":{"field":"g","type":"nominal","scale":{"domain":["WT→WT","Csf1r⁻/⁻→WT"],"range":["#ffffff","#0c0707"]},"legend":null}}},
     {"data":{"values":[{"t":"**"}]},"mark":{"type":"rule","color":"#555","strokeWidth":1.5},"encoding":{"x":{"datum":"WT→WT"},"x2":{"datum":"Csf1r⁻/⁻→WT"},"y":{"datum":64.5}}},
     {"data":{"values":[{"t":"**"}]},"mark":{"type":"text","baseline":"bottom","dy":-1,"fontSize":13,"color":"#777"},"encoding":{"x":{"datum":"WT→WT","bandPosition":1.235},"y":{"datum":64.5},"text":{"field":"t"}}}
    ]},
   {"mark":{"type":"rule","opacity":0},"encoding":{"x":{"datum":0.5,"type":"quantitative","scale":{"domain":[0,1],"range":[-5,100]},"axis":{"orient":"bottom","offset":75,"domainColor":"#000","domainWidth":2,"ticks":false,"labels":false,"grid":false,"title":"Donor-derived","titleFontSize":14.5,"titlePadding":5}}}}
  ]},
 {"width":212,"height":206,
  "data":{"values":[{"g":"WT→WT","m":7.4,"hi":8.4},{"g":"Csf1r⁻/⁻→WT","m":56.2,"hi":62.5}]},
  "resolve":{"scale":{"x":"independent"},"axis":{"x":"independent"}},
  "layer":[
   {"encoding":{"x":{"field":"g","type":"nominal","sort":null,"scale":{"domain":["WT→WT","Csf1r⁻/⁻→WT"],"range":[0,112],"paddingInner":0.32,"paddingOuter":0.18},"axis":{"labelAngle":-45,"title":null,"labelFontSize":15,"labelColor":"#111"}}},
    "layer":[
     {"mark":{"type":"rule","color":"#111","strokeWidth":1.5},"encoding":{"y":{"field":"m","type":"quantitative","scale":{"domain":[0,62],"range":[206,70],"nice":false},"axis":{"values":[0,10,20,30,40,50,60],"tickCount":100,"format":"d","labelOverlap":false,"labelFontSize":12,"title":null}},"y2":{"field":"hi"}}},
     {"mark":{"type":"tick","orient":"horizontal","size":19,"thickness":1.5,"color":"#111"},"encoding":{"y":{"field":"hi","type":"quantitative"}}},
     {"mark":{"type":"bar","stroke":"#111","strokeWidth":1.5},"encoding":{"y":{"field":"m","type":"quantitative"},"fill":{"field":"g","type":"nominal","scale":{"domain":["WT→WT","Csf1r⁻/⁻→WT"],"range":["#ffffff","#0c0707"]},"legend":null}}},
     {"data":{"values":[{"t":"**"}]},"mark":{"type":"rule","color":"#555","strokeWidth":1.5},"encoding":{"x":{"datum":"WT→WT"},"x2":{"datum":"Csf1r⁻/⁻→WT"},"y":{"datum":64.7}}},
     {"data":{"values":[{"t":"**"}]},"mark":{"type":"text","baseline":"bottom","dy":-1,"fontSize":13,"color":"#777"},"encoding":{"x":{"datum":"WT→WT","bandPosition":1.235},"y":{"datum":64.7},"text":{"field":"t"}}}
    ]},
   {"mark":{"type":"rule","opacity":0},"encoding":{"x":{"datum":0.5,"type":"quantitative","scale":{"domain":[0,1],"range":[-1,104]},"axis":{"orient":"bottom","offset":75,"domainColor":"#000","domainWidth":2,"ticks":false,"labels":false,"grid":false,"title":"Host-derived","titleFontSize":14.5,"titlePadding":5}}}}
  ]},
 {"width":113,"height":1,"data":{"values":[{}]},"mark":{"type":"point","opacity":0}},
 {"width":110,"height":1,"data":{"values":[{}]},"mark":{"type":"point","opacity":0}}
]}
